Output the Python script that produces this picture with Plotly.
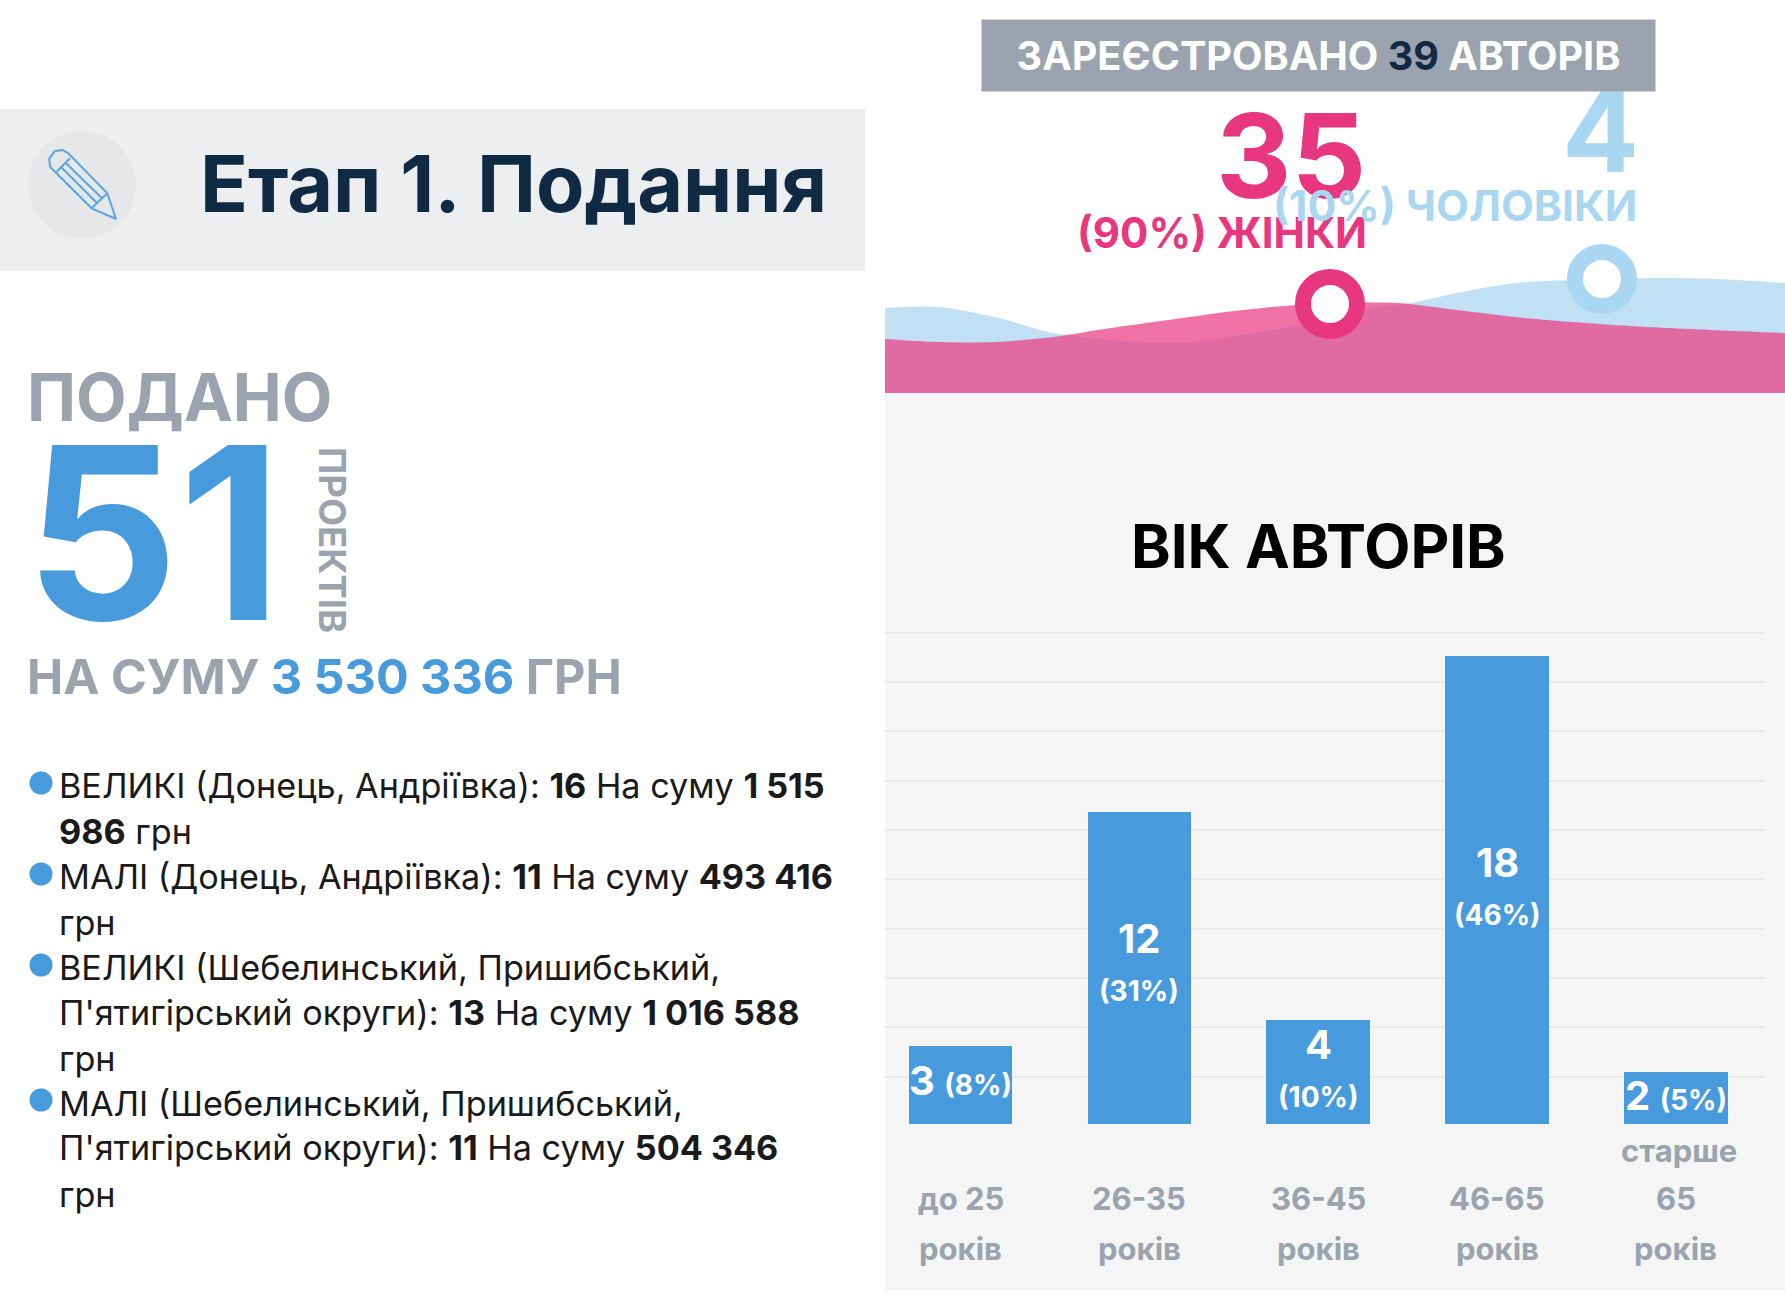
import plotly.graph_objects as go

W, H = 1785, 1307
FONT = "Inter"
BLUE = "#479BDD"
GREY = "#9AA3AE"
NAVY = "#0F2A42"
PINK = "#E8377F"
SKY = "#A9D6F0"

# ---- chart data
categories = ["до 25 років", "26-35 років", "36-45 років", "46-65 років", "старше 65 років"]
counts = [3, 12, 4, 18, 2]
shares = ["8%", "31%", "10%", "46%", "5%"]
tick_lines = [["до 25", "років"], ["26-35", "років"], ["36-45", "років"], ["46-65", "років"], ["старше", "65", "років"]]

# ---- decorative wave outlines (page pixels)
sky_wave_x = [885, 938, 995, 1053, 1111, 1182, 1240, 1300, 1370, 1411, 1457, 1515, 1573, 1659, 1717, 1785]
sky_wave_y = [308, 307, 317, 333, 340, 343, 335, 325, 308, 303, 293, 283, 280, 278, 279, 283]
pink_wave_x = [885, 938, 995, 1053, 1111, 1169, 1226, 1284, 1342, 1399, 1457, 1515, 1573, 1630, 1688, 1785]
pink_wave_y = [339, 342, 342, 337, 328, 320, 312, 306, 303, 303, 310, 317, 322, 326, 329, 333]
wave_base_x = [885, 1785]
wave_base_y = [393, 393]

ring_x = [1330, 1602]
ring_y = [304, 279]
ring_colors = [PINK, SKY]

bullet_x = [41, 41, 41, 41]
bullet_y = [783, 874, 965, 1100]

list_lines = [
    "ВЕЛИКІ (Донець, Андріївка): <b>16</b> На суму <b>1 515</b>",
    "<b>986</b> грн",
    "МАЛІ (Донець, Андріївка): <b>11</b> На суму <b>493 416</b>",
    "грн",
    "ВЕЛИКІ (Шебелинський, Пришибський,",
    "П'ятигірський округи): <b>13</b> На суму <b>1 016 588</b>",
    "грн",
    "МАЛІ (Шебелинський, Пришибський,",
    "П'ятигірський округи): <b>11</b> На суму <b>504 346</b>",
    "грн",
]
list_y = [785, 831, 876, 922, 967, 1012, 1058, 1103, 1147, 1194]


def px(x):
    return x / W


def py(y):
    return 1 - y / H


def note(x, y, text, size, color, bold=True, anchor="center", **kw):
    return dict(
        x=x, y=y, xref=kw.pop("xref", "x2"), yref="y2", text=f"<b>{text}</b>" if bold else text,
        showarrow=False, xanchor=anchor, yanchor="middle",
        font=dict(family=FONT, size=size, color=color), **kw,
    )


fig = go.Figure()

# bars
fig.add_trace(go.Bar(
    x=list(range(5)), y=counts, width=0.58, marker=dict(color=BLUE, line=dict(width=0)),
    customdata=categories, hoverinfo="skip", xaxis="x", yaxis="y",
))


def wave(xs, ys, fill):
    fig.add_trace(go.Scatter(x=wave_base_x, y=wave_base_y, mode="lines", line=dict(width=0),
                             xaxis="x2", yaxis="y2", hoverinfo="skip"))
    fig.add_trace(go.Scatter(x=xs, y=ys, mode="lines", line=dict(width=0, shape="spline", smoothing=0.8),
                             fill="tonexty", fillcolor=fill, xaxis="x2", yaxis="y2", hoverinfo="skip"))


wave(sky_wave_x, sky_wave_y, "#C2E0F4")
wave(pink_wave_x, pink_wave_y, "rgba(235,67,135,0.75)")

# rings and bullets
fig.add_trace(go.Scatter(
    x=ring_x, y=ring_y, mode="markers",
    marker=dict(size=54, color="white", line=dict(width=16, color=ring_colors)),
    xaxis="x2", yaxis="y2", hoverinfo="skip",
))
fig.add_trace(go.Scatter(
    x=bullet_x, y=bullet_y, mode="markers", marker=dict(size=23, color=BLUE),
    xaxis="x2", yaxis="y2", hoverinfo="skip",
))
# pencil icon
fig.add_trace(go.Scatter(
    x=[50, 91.7, 116, 107.3, 68.3, 62.7, 55, 49.3, 50, None, 56.7, 70, None, 91.7, 107.3, None, 61, 97, None, 65.6, 102],
    y=[166.7, 208.3, 219, 193.3, 153.3, 150, 151, 158.3, 166.7, None, 171.7, 158.3, None, 208.3, 193.3, None, 167, 203, None, 162.7, 198.3],
    mode="lines", line=dict(color="#5BA6DC", width=2), xaxis="x2", yaxis="y2", hoverinfo="skip",
))

ann = []
ann.append(note(1600, 130, "4", 114, SKY))
ann.append(note(1291, 155, "35", 117, PINK))
ann.append(note(1222, 232, "(90%) ЖІНКИ", 42, PINK))
ann.append(note(1455, 205, "(10%) ЧОЛОВІКИ", 42.7, SKY))
ann.append(dict(
    x=1318.5, y=55.5, xref="x2", yref="y2", showarrow=False, width=673, height=71, bgcolor=GREY,
    borderpad=0, align="center", valign="middle",
    text=f'<b>ЗАРЕЄСТРОВАНО <span style="color:{NAVY}">39</span> АВТОРІВ</b>',
    font=dict(family=FONT, size=39.6, color="white"),
))
ann.append(note(198, 183, "Етап 1. Подання", 79, NAVY, anchor="left"))
ann.append(note(25, 397, "ПОДАНО", 65.7, GREY, anchor="left"))
ann.append(note(23, 532, "51", 240, BLUE, anchor="left"))
ann.append(note(332, 540, "ПРОЕКТІВ", 36.5, GREY, textangle=90))
ann.append(note(25, 676, f'НА СУМУ <span style="color:{BLUE}">3 530 336</span> ГРН', 48.5, GREY, anchor="left"))
for text, y in zip(list_lines, list_y):
    ann.append(note(57, y, text, 34.2, "#1A1A1A", bold=False, anchor="left"))
ann.append(note(1318, 546, "ВІК АВТОРІВ", 60, "#000000"))

# bar labels
for i, (n, s) in enumerate(zip(counts, shares)):
    if n in (3, 2):
        y = 1080 if n == 3 else 1095
        ann.append(note(i, y, f'{n} <span style="font-size:28px">({s})</span>', 40, "white", xref="x"))
    else:
        y1 = {12: 938, 18: 862, 4: 1044}[n]
        ann.append(note(i, y1, str(n), 40, "white", xref="x"))
        ann.append(note(i, y1 + 53, f"({s})", 28, "white", xref="x"))

# tick labels
tick_rows = [1198, 1248]
for i, lines in enumerate(tick_lines):
    rows = tick_rows if len(lines) == 2 else [1150] + tick_rows
    for line, y in zip(lines, rows):
        ann.append(note(i + (0.02 if line == "старше" else 0), y, line, 31, GREY, xref="x"))

shapes = [
    dict(type="rect", xref="paper", yref="paper", x0=0, x1=px(865), y0=py(271), y1=py(109),
         fillcolor="#ECEEF0", line_width=0, layer="below"),
    dict(type="circle", xref="paper", yref="paper", x0=px(28), x1=px(136), y0=py(239), y1=py(131),
         fillcolor="#E5E7E9", line_width=0, layer="below"),
    dict(type="rect", xref="paper", yref="paper", x0=px(885), x1=1, y0=py(1290), y1=py(393),
         fillcolor="#F5F5F5", line_width=0, layer="below"),
]

zero = -0.08
fig.update_layout(
    width=W, height=H, margin=dict(l=0, r=0, t=0, b=0, pad=0), autosize=False,
    paper_bgcolor="white", plot_bgcolor="rgba(0,0,0,0)", showlegend=False, bargap=0,
    shapes=shapes, annotations=ann, hovermode=False,
    xaxis=dict(domain=[px(885), px(1764)], range=[-0.423, 4.493], showgrid=False, zeroline=False,
               showline=False, tickvals=list(range(5)), showticklabels=False, ticks=""),
    yaxis=dict(domain=[py(1126), py(630)], range=[zero, zero + 19.1], tick0=zero, dtick=1.9,
               showgrid=True, gridcolor="#E9E9E9", gridwidth=2, zeroline=False, showticklabels=False, ticks=""),
    xaxis2=dict(domain=[0, 1], range=[0, W], visible=False, anchor="y2", fixedrange=True),
    yaxis2=dict(domain=[0, 1], range=[H, 0], visible=False, anchor="x2", fixedrange=True),
)

fig.write_html("out.html", post_script="document.body.style.margin='0';", config={"displayModeBar": False})
